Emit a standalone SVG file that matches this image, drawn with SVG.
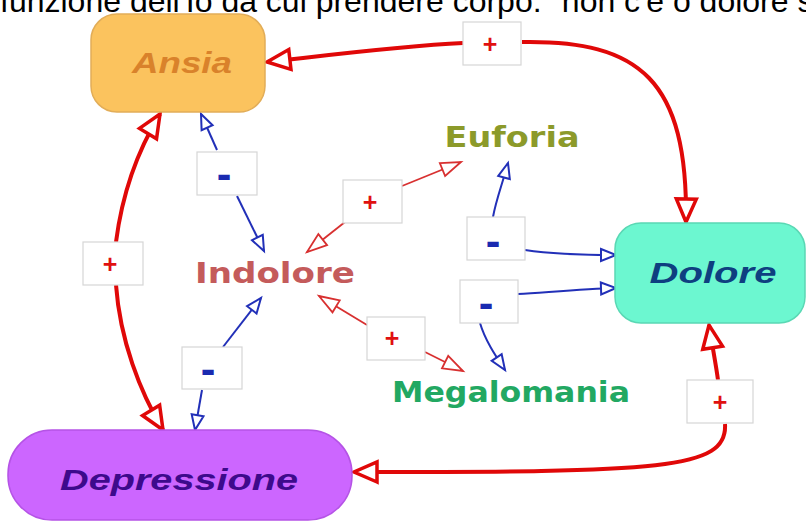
<svg xmlns="http://www.w3.org/2000/svg" width="806" height="522" viewBox="0 0 806 522">
<style>
.hdr{font-family:"Liberation Sans",Arial,sans-serif;font-size:32px;fill:#000}
.nt{font-family:"Liberation Sans",Arial,sans-serif;font-weight:bold;font-style:italic;font-size:30px;text-anchor:middle}
.ft{font-family:"DejaVu Sans",sans-serif;font-weight:bold;font-size:29px;text-anchor:middle}
.lb{fill:#fff;stroke:#d6d6d6;stroke-width:1.2}
.plus{font-family:"Liberation Sans",Arial,sans-serif;font-weight:bold;font-size:25px;fill:#e01010;text-anchor:middle}
.minus{font-family:"Liberation Sans",Arial,sans-serif;font-weight:bold;font-size:44px;fill:#1a2ab0;text-anchor:middle}
.rk{fill:none;stroke:#e00808;stroke-width:4;marker-end:url(#mR)}
.bl{fill:none;stroke:#2230b8;stroke-width:2;marker-end:url(#mB)}
.rt{fill:none;stroke:#d83030;stroke-width:1.8;marker-end:url(#mr)}
</style>
<defs>
<marker id="mR" markerUnits="userSpaceOnUse" markerWidth="30" markerHeight="26" refX="24" refY="11" orient="auto" overflow="visible">
<path d="M1,1 L24,11 L1,21 Z" fill="#fff" stroke="#e00808" stroke-width="3.5" stroke-linejoin="miter"/>
</marker>
<marker id="mB" markerUnits="userSpaceOnUse" markerWidth="20" markerHeight="16" refX="16" refY="7" orient="auto" overflow="visible">
<path d="M1,1 L16,7 L1,13 Z" fill="#fff" stroke="#2230b8" stroke-width="2"/>
</marker>
<marker id="mr" markerUnits="userSpaceOnUse" markerWidth="24" markerHeight="18" refX="21" refY="8" orient="auto" overflow="visible">
<path d="M1,1 L21,8 L1,15 Z" fill="#fff" stroke="#d83030" stroke-width="1.8"/>
</marker>
</defs>
<rect x="0" y="0" width="806" height="522" fill="#fff"/>
<text class="hdr" x="0" y="12">funzione dell'Io da cui prendere corpo: "non c'è o dolore se</text>

<g id="connectors">
<path class="rk" d="M463,43 C400,46 330,55 267,62"/>
<path class="rk" d="M522,42 C640,40 688,80 686,222"/>
<path class="rk" d="M116,242 C122,195 138,150 160,114"/>
<path class="rk" d="M116,285 C120,340 140,392 163,430"/>
<path class="rk" d="M718,380 C716,365 713,350 709,325"/>
<path class="rk" d="M725,424 C728,470 660,472 354,472"/>
<path class="bl" d="M217,150 L201,114"/>
<path class="bl" d="M237,196 L264,251"/>
<path class="bl" d="M223,347 L261,298"/>
<path class="bl" d="M202,390 L195,430"/>
<path class="bl" d="M493,217 C496,200 502,185 508,163"/>
<path class="bl" d="M525,250 C545,253 580,255 616,255"/>
<path class="bl" d="M518,294 C550,292 585,289 616,288"/>
<path class="bl" d="M480,323 C485,340 495,355 505,370"/>
<path class="rt" d="M402,186 L461,162"/>
<path class="rt" d="M345,222 L307,252"/>
<path class="rt" d="M367,325 L319,296"/>
<path class="rt" d="M425,352 L463,371"/>
</g>

<g id="labels">
<g id="l1"><rect class="lb" x="463" y="22" width="58" height="43"/><text class="plus" x="490" y="53">+</text></g>
<g id="l2"><rect class="lb" x="197" y="152" width="60" height="43"/><text class="minus" x="224" y="189">-</text></g>
<g id="l3"><rect class="lb" x="83" y="242" width="60" height="43"/><text class="plus" x="110" y="273">+</text></g>
<g id="l4"><rect class="lb" x="182" y="347" width="60" height="42"/><text class="minus" x="208" y="384">-</text></g>
<g id="l5"><rect class="lb" x="343" y="180" width="59" height="43"/><text class="plus" x="370" y="211">+</text></g>
<g id="l6"><rect class="lb" x="467" y="217" width="58" height="43"/><text class="minus" x="493" y="256">-</text></g>
<g id="l7"><rect class="lb" x="460" y="280" width="58" height="43"/><text class="minus" x="486" y="318">-</text></g>
<g id="l8"><rect class="lb" x="367" y="317" width="58" height="43"/><text class="plus" x="392" y="347">+</text></g>
<g id="l9"><rect class="lb" x="687" y="380" width="66" height="43"/><text class="plus" x="720" y="411">+</text></g>
</g>

<g id="ansia">
<rect x="91" y="14" width="174" height="98" rx="26" fill="#fbc35e" stroke="#e2ad58" stroke-width="1.5"/>
<text class="nt" x="182" y="73" fill="#d9822b" textLength="100" lengthAdjust="spacingAndGlyphs">Ansia</text>
</g>
<g id="dolore">
<rect x="615" y="223" width="190" height="100" rx="26" fill="#6cf7d0" stroke="#5ad8b4" stroke-width="1.5"/>
<text class="nt" x="713" y="283" fill="#0e3f80" textLength="127" lengthAdjust="spacingAndGlyphs">Dolore</text>
</g>
<g id="depressione">
<rect x="8" y="430" width="344" height="90" rx="44" fill="#cc66ff" stroke="#b553e6" stroke-width="1.5"/>
<text class="nt" x="179" y="490" fill="#3d0a8c" font-size="31" textLength="238" lengthAdjust="spacingAndGlyphs">Depressione</text>
</g>
<g id="indolore">
<text class="ft" x="275" y="283" fill="#c45b5b" textLength="160" lengthAdjust="spacingAndGlyphs">Indolore</text>
</g>
<g id="euforia">
<text class="ft" x="512" y="147" fill="#8c9a2a" textLength="135" lengthAdjust="spacingAndGlyphs">Euforia</text>
</g>
<g id="megalomania">
<text class="ft" x="511" y="402" fill="#22a862" textLength="238" lengthAdjust="spacingAndGlyphs">Megalomania</text>
</g>
</svg>
